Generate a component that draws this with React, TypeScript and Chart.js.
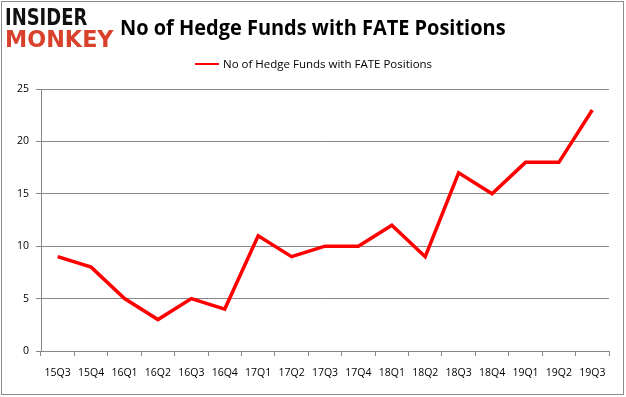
import React, { useEffect, useRef } from "react";
import { Chart, registerables } from "chart.js";

Chart.register(...registerables);

const categories = ["15Q3", "15Q4", "16Q1", "16Q2", "16Q3", "16Q4", "17Q1", "17Q2", "17Q3", "17Q4", "18Q1", "18Q2", "18Q3", "18Q4", "19Q1", "19Q2", "19Q3"];
const fundCounts = [9, 8, 5, 3, 5, 4, 11, 9, 10, 10, 12, 9, 17, 15, 18, 18, 23];
const seriesName = "No of Hedge Funds with FATE Positions";
const titleText = "No of Hedge Funds with FATE Positions";
const yTicks = [0, 5, 10, 15, 20, 25];

export default function App() {
  const ref = useRef<HTMLCanvasElement | null>(null);
  useEffect(() => {
    if (!ref.current) return;
    const chart = new Chart(ref.current, {
      type: "line",
      data: {
        labels: categories,
        datasets: [
          {
            label: seriesName,
            data: fundCounts,
            borderColor: "#ff0000",
            backgroundColor: "#ff0000",
            borderWidth: 3.5,
            pointRadius: 0,
            tension: 0,
          },
        ],
      },
      options: {
        animation: false,
        responsive: false,
        layout: { padding: { top: 89, right: 17, left: 0, bottom: 0 } },
        plugins: {
          legend: { display: false },
          title: { display: false },
          tooltip: { enabled: false },
        },
        scales: {
          x: {
            offset: true,
            grid: { offset: true, drawOnChartArea: false, color: "#868686", tickLength: 5 },
            border: { color: "#868686" },
            ticks: { color: "#000", font: { family: "Open Sans", size: 10.5 }, padding: 11, maxRotation: 0, autoSkip: false },
            afterFit: (s: any) => { s.height = 46; },
          },
          y: {
            min: 0,
            max: 25,
            afterBuildTicks: (s: any) => { s.ticks = yTicks.map((v) => ({ value: v })); },
            grid: { color: "#868686", tickLength: 5 },
            border: { color: "#868686" },
            ticks: { color: "#000", font: { family: "Open Sans", size: 10.5 }, padding: 7 },
            afterFit: (s: any) => { s.width = 41; },
          },
        },
      },
    });
    return () => chart.destroy();
  }, []);

  return (
    <div style={{ position: "fixed", left: 0, top: 0, width: 626, height: 397, background: "#fff", fontFamily: "Open Sans" }}>
      <canvas ref={ref} width={626} height={397} style={{ position: "absolute", left: 0, top: 0 }} />
      <div style={{ position: "absolute", left: 1, top: 1, width: 623, height: 394, border: "1px solid #8c8c8c", boxSizing: "border-box", pointerEvents: "none" }} />
      <div style={{ position: "absolute", left: 5, top: 5, fontFamily: "DejaVu Sans", fontWeight: 900, fontSize: 23, lineHeight: "24px", color: "#111", transform: "scaleX(0.78)", transformOrigin: "left", whiteSpace: "nowrap" }}>INSIDER</div>
      <div style={{ position: "absolute", left: 5, top: 27, fontFamily: "DejaVu Sans", fontWeight: 900, fontSize: 23, lineHeight: "24px", color: "#d8412b", transform: "scaleX(0.97)", transformOrigin: "left", whiteSpace: "nowrap" }}>MONKEY</div>
      <div style={{ position: "absolute", left: 120, top: 13, fontFamily: "Open Sans", fontWeight: 700, fontSize: 21, lineHeight: "28px", color: "#000", whiteSpace: "nowrap", transform: "scaleX(0.95)", transformOrigin: "left" }}>{titleText}</div>
      <div style={{ position: "absolute", left: 195, top: 55, display: "flex", alignItems: "center", whiteSpace: "nowrap" }}>
        <div style={{ width: 24, height: 2.5, background: "#ff0000", marginRight: 4 }} />
        <div style={{ fontFamily: "Open Sans", fontSize: 11.5, lineHeight: "18px", color: "#000" }}>{seriesName}</div>
      </div>
    </div>
  );
}
